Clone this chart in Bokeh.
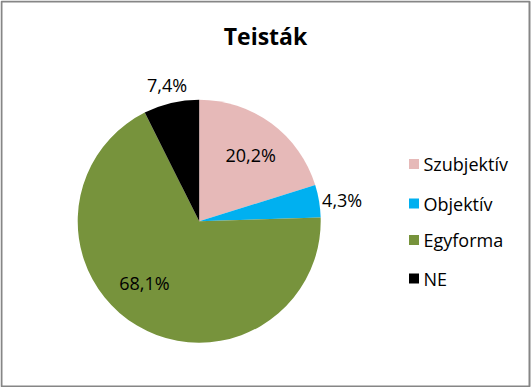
import math
from bokeh.plotting import figure
from bokeh.models import Range1d, ColumnDataSource
from bokeh.core.properties import value
from bokeh.embed import file_html
from bokeh.resources import INLINE

# ---- data ----
title_text = "Teisták"
categories = ["Szubjektív", "Objektív", "Egyforma", "NE"]
shares = [20.2, 4.3, 68.1, 7.4]
labels = ["20,2%", "4,3%", "68,1%", "7,4%"]
colors = ["#E6B9B8", "#00B0F0", "#77933C", "#000000"]

# ---- layout (pixels) ----
W, H = 531, 387
cx, cy_px, R = 198.7, 220.7, 121.5
label_radius = [0.69, 1.19, 0.68, 1.15]
label_shift_deg = [1.5, 1.0, 10.7, 0.0]
legend_x_sq, legend_x_txt = 413.5, 423
legend_y_px = [163.5, 203, 239.5, 278]
FONT = "Open Sans"

def Y(px):
    return H - px

total = sum(shares)
starts, ends, lx, ly = [], [], [], []
cum = 0.0
for i, s in enumerate(shares):
    a0 = cum / total
    cum += s
    a1 = cum / total
    starts.append(math.pi / 2 - 2 * math.pi * a0)
    ends.append(math.pi / 2 - 2 * math.pi * a1)
    mid = (a0 + a1) / 2 * 360 + label_shift_deg[i]
    th = math.radians(mid)
    lx.append(cx + label_radius[i] * R * math.sin(th))
    ly.append(Y(cy_px) + label_radius[i] * R * math.cos(th))

src = ColumnDataSource(dict(start=starts, end=ends, color=colors,
                            lx=lx, ly=ly, label=labels, cat=categories,
                            legy=[Y(v) for v in legend_y_px],
                            sqx=[legend_x_sq] * 4, txx=[legend_x_txt] * 4))

p = figure(width=W, height=H, output_backend="svg", toolbar_location=None,
           x_range=Range1d(0, W), y_range=Range1d(0, H), min_border=0)
p.axis.visible = False
p.xgrid.visible = False
p.ygrid.visible = False
p.outline_line_color = None
p.background_fill_color = "white"
p.border_fill_color = "white"

p.wedge(x=cx, y=Y(cy_px), radius=R, start_angle="start", end_angle="end",
        direction="clock", fill_color="color", line_color=None, source=src)

p.text(x="lx", y="ly", text="label", source=src, text_align="center",
       text_baseline="middle", text_font=value(FONT), text_font_size="18px",
       text_color="#000000")

# legend
p.rect(x="sqx", y="legy", width=10, height=10, fill_color="color",
       line_color=None, source=src)
p.text(x="txx", y="legy", text="cat", source=src, text_align="left",
       text_baseline="middle", text_font=value(FONT), text_font_size="18px",
       text_color="#000000")

# title
p.text(x=[265], y=[Y(35)], text=[title_text], text_align="center",
       text_baseline="middle", text_font=value(FONT), text_font_size="23px",
       text_font_style="bold", text_color="#000000")

# chart border
p.quad(left=[1], right=[529], bottom=[Y(386)], top=[Y(1)],
       fill_color=None, line_color="#868686", line_width=2)

open("out.html", "w").write(file_html(p, INLINE))
